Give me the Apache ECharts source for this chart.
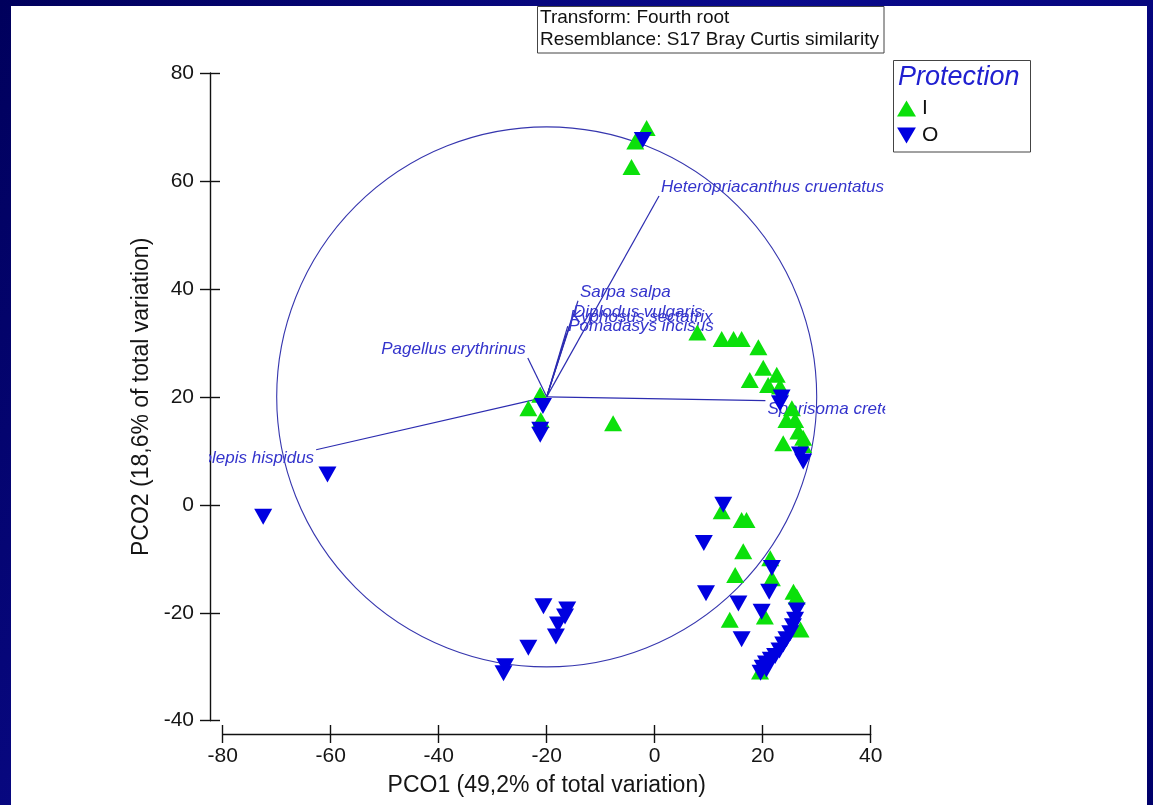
<!DOCTYPE html>
<html>
<head>
<meta charset="utf-8">
<script src="https://cdn.jsdelivr.net/npm/echarts@6/dist/echarts.min.js"></script>
<style>
html, body { margin: 0; padding: 0; background: #000070; }
#chart { width: 1153px; height: 805px; }
</style>
</head>
<body>
<div id="chart"></div>
<script>
// PCO ordination of fish assemblages, sites grouped by protection level
const protectionLevels = ['I', 'O'];

// Sites inside the protected area (I)
const insideSites = [
  [-1.5, 69.8], [-3.6, 67.3], [-4.3, 62.6],
  [-21.2, 20.4], [-23.4, 17.9], [-21.1, 15.7], [-7.7, 15.1],
  [7.9, 31.9], [12.4, 30.7], [14.6, 30.7], [16.1, 30.7], [19.2, 29.2],
  [20.1, 25.4], [17.6, 23.1], [22.6, 24.1], [21.0, 22.2], [23.2, 21.9],
  [25.4, 17.9], [24.4, 15.7], [26.0, 15.7], [26.6, 13.6], [23.8, 11.4],
  [27.5, 12.4], [27.5, 11.1],
  [12.4, -1.2], [16.1, -2.8], [17.0, -2.8], [16.4, -8.6], [21.4, -9.9],
  [14.9, -13.0], [21.7, -13.6], [25.7, -16.1], [26.3, -17.0], [20.4, -20.7],
  [13.9, -21.3], [27.0, -23.1], [19.5, -30.9]
];

// Sites outside the protected area (O)
const outsideSites = [
  [-2.2, 67.6],
  [-20.7, 18.3], [-21.2, 13.9], [-21.2, 13.0],
  [-60.6, 5.6], [-72.5, -2.2],
  [23.5, 19.9], [23.2, 18.8], [26.9, 9.3], [27.5, 8.0],
  [-20.6, -18.8], [-16.2, -19.4], [-16.6, -20.7], [-17.9, -22.2],
  [-18.3, -24.4], [-23.4, -26.5], [-27.7, -29.9], [-28.0, -31.2],
  [12.7, 0.0], [9.1, -7.1], [21.7, -11.7], [9.5, -16.4], [21.2, -16.1],
  [15.5, -18.3], [19.8, -19.8], [26.3, -19.6], [16.1, -24.9],
  [26.0, -21.3], [25.6, -22.5], [25.1, -23.8], [24.4, -24.9], [23.8, -25.9],
  [23.1, -27.0], [22.3, -28.0], [21.5, -28.7], [20.6, -29.4], [20.0, -30.2],
  [20.7, -30.5], [19.6, -31.1]
];

// Species correlation vectors (drawn from a common origin)
const vectorNames = [
  'Heteropriacanthus cruentatus', 'Sarpa salpa', 'Diplodus vulgaris',
  'Kyphosus sectatrix', 'Pomadasys incisus', 'Pagellus erythrinus',
  'Sparisoma cretense', 'Stephanolepis hispidus'
];
const vectorEndX = [0.8, -14.2, -15.5, -16.1, -16.4, -23.5, 20.5, -62.7];
const vectorEndY = [57.2, 37.8, 34.1, 33.1, 31.5, 27.2, 19.3, 10.2];
const vectorOrigin = [-20, 20];
const correlationRadius = 50;

// Axes
const pco1Range = [-80, 40];
const pco2Range = [-40, 80];
const tickStep = 20;
const pco1Title = 'PCO1 (49,2% of total variation)';
const pco2Title = 'PCO2 (18,6% of total variation)';
const infoLines = ['Transform: Fourth root', 'Resemblance: S17 Bray Curtis similarity'];
const legendTitle = 'Protection';

const FONT = '"Liberation Sans", Arial, sans-serif';
const GREEN = '#0be00b';
const BLUE = '#0000e0';
const DOWN_TRIANGLE = 'path://M0,0L20,0L10,17Z';
const X_OFFSET = 13.3;
const Y_OFFSET = 12.7;

// two copies of each axis: one with outward ticks + labels, one with inward ticks,
// so the ticks cross the axis line
function baseX(inside) {
  return {
    type: 'value', min: pco1Range[0], max: pco1Range[1], interval: tickStep,
    position: 'bottom', offset: X_OFFSET,
    axisLine: { show: !inside, onZero: false, lineStyle: { color: '#111', width: 1.4 } },
    axisTick: { show: true, inside: inside, length: 9, lineStyle: { color: '#111', width: 1.4 } },
    axisLabel: { show: !inside, fontSize: 21, color: '#151515', fontFamily: FONT, margin: 12 },
    splitLine: { show: false },
    name: inside ? '' : pco1Title, nameLocation: 'middle', nameGap: 40,
    nameTextStyle: { fontSize: 23, color: '#151515', fontFamily: FONT }
  };
}
function baseY(inside) {
  return {
    type: 'value', min: pco2Range[0], max: pco2Range[1], interval: tickStep,
    position: 'left', offset: Y_OFFSET,
    axisLine: { show: !inside, onZero: false, lineStyle: { color: '#111', width: 1.4 } },
    axisTick: { show: true, inside: inside, length: 10, lineStyle: { color: '#111', width: 1.4 } },
    axisLabel: { show: !inside, fontSize: 21, color: '#151515', fontFamily: FONT, margin: 16 },
    splitLine: { show: false },
    name: inside ? '' : pco2Title, nameLocation: 'middle', nameGap: 53,
    nameTextStyle: { fontSize: 23, color: '#151515', fontFamily: FONT }
  };
}

const chart = echarts.init(document.getElementById('chart'), null, { renderer: 'canvas' });

chart.setOption({
  animation: false,
  backgroundColor: {
    type: 'linear', x: 0, y: 0, x2: 1, y2: 1,
    colorStops: [
      { offset: 0, color: '#00005c' },
      { offset: 0.45, color: '#0a0a8c' },
      { offset: 1, color: '#00006a' }
    ]
  },
  grid: { left: 222.7, top: 73, width: 648, height: 647.7 },
  xAxis: [baseX(false), baseX(true)],
  yAxis: [baseY(false), baseY(true)],
  legend: {
    data: protectionLevels,
    orient: 'vertical', left: 897, top: 98, padding: 0,
    itemWidth: 19, itemHeight: 16, itemGap: 6,
    textStyle: { fontSize: 21, color: '#111', fontFamily: FONT, padding: [0, 0, 0, 1] }
  },
  graphic: [
    { type: 'rect', z: -100, silent: true, shape: { x: 11, y: 6, width: 1136, height: 805 }, style: { fill: '#ffffff' } },
    {
      type: 'group', z: 10, silent: true,
      children: [
        { type: 'rect', shape: { x: 537.5, y: 6.5, width: 346.5, height: 46.5 }, style: { fill: '#fff', stroke: '#444', lineWidth: 1 } },
        { type: 'text', x: 540, y: 18, style: { text: infoLines[0], font: '19px ' + FONT, fill: '#111', verticalAlign: 'middle' } },
        { type: 'text', x: 540, y: 40, style: { text: infoLines[1], font: '19px ' + FONT, fill: '#111', verticalAlign: 'middle' } }
      ]
    },
    {
      type: 'group', z: 10, silent: true,
      children: [
        { type: 'rect', shape: { x: 893.5, y: 60.5, width: 137, height: 91.5 }, style: { fill: 'none', stroke: '#444', lineWidth: 1 } },
        { type: 'text', x: 898, y: 77, style: { text: legendTitle, font: 'italic 27px ' + FONT, fill: '#2020d0', verticalAlign: 'middle' } }
      ]
    }
  ],
  series: [
    {
      // correlation circle
      type: 'custom', clip: false, silent: true, z: 1,
      data: [[vectorOrigin[0], vectorOrigin[1], correlationRadius]],
      renderItem(params, api) {
        const c = api.coord([api.value(0), api.value(1)]);
        const r = api.size([api.value(2), 0])[0];
        return { type: 'circle', shape: { cx: c[0], cy: c[1], r: r }, style: { fill: 'none', stroke: '#3636ae', lineWidth: 1.1 } };
      }
    },
    {
      // species vectors with their labels
      type: 'custom', clip: false, silent: true, z: 3,
      data: vectorEndX.map((x, i) => [x, vectorEndY[i]]),
      renderItem(params, api) {
        const i = params.dataIndex;
        const ex = api.value(0), ey = api.value(1);
        const o = api.coord(vectorOrigin);
        const e = api.coord([ex, ey]);
        const dx = ex - vectorOrigin[0];
        const dy = ey - vectorOrigin[1];
        const cs = params.coordSys;
        return {
          type: 'group',
          children: [
            { type: 'line', shape: { x1: o[0], y1: o[1], x2: e[0], y2: e[1] }, style: { stroke: '#2c2cb0', lineWidth: 1.2 } },
            {
              type: 'group',
              clipPath: { type: 'rect', shape: { x: cs.x - Y_OFFSET - 1, y: cs.y - 80, width: cs.width + Y_OFFSET + 15.5, height: cs.height + 160 } },
              children: [{
                type: 'text', x: e[0] + (dx >= 0 ? 2 : -2), y: e[1],
                style: {
                  text: vectorNames[i], font: 'italic 17px ' + FONT, fill: '#3434cc',
                  align: dx >= 0 ? 'left' : 'right', verticalAlign: dy >= 0 ? 'bottom' : 'top'
                }
              }]
            }
          ]
        };
      }
    },
    {
      name: protectionLevels[0], type: 'scatter', z: 4,
      symbol: 'triangle', symbolSize: [18, 16],
      itemStyle: { color: GREEN, opacity: 1 },
      data: insideSites
    },
    {
      name: protectionLevels[1], type: 'scatter', z: 5,
      symbol: DOWN_TRIANGLE, symbolSize: [18, 16],
      itemStyle: { color: BLUE, opacity: 1 },
      data: outsideSites
    }
  ]
});
</script>
</body>
</html>
